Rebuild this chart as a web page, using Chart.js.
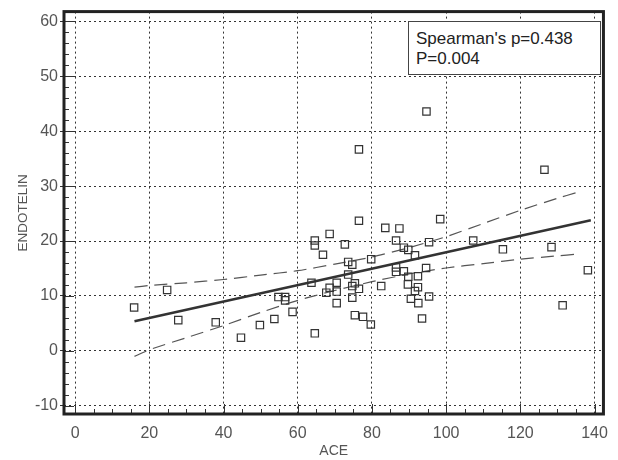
<!DOCTYPE html>
<html lang="en">
<head>
  <meta charset="UTF-8">
  <title>ACE vs Endotelin</title>
  <script src="https://cdn.jsdelivr.net/npm/chart.js"></script>
  <style>
    html, body { margin: 0; padding: 0; background: #fff; }
    #wrap { position: relative; width: 618px; height: 460px; }
    #stats {
      position: absolute;
      left: 408px; top: 21px;
      width: 193px; height: 54px;
      box-sizing: border-box;
      border: 1.5px solid #444;
      background: #fff;
      padding: 7px 0 0 7px;
      font-family: "Liberation Sans", Arial, sans-serif;
      font-size: 17px;
      line-height: 20px;
      color: #222;
      white-space: nowrap;
    }
  </style>
</head>
<body>
<div id="wrap">
  <canvas id="myChart" width="618" height="460"></canvas>
  <div id="stats">Spearman's p=0.438<br>P=0.004</div>
</div>

<script>
  // scatter points
  const aceValues = [
    15.9, 24.8, 27.8, 37.9, 44.7, 49.8, 53.7, 54.8, 56.6, 56.6,
    58.6, 63.7, 64.6, 64.6, 64.6, 66.8, 67.7, 68.6, 68.6, 70.5,
    70.5, 70.5, 72.7, 73.6, 73.6, 74.7, 74.7, 74.7, 75.4, 75.4,
    76.5, 76.5, 76.5, 77.6, 79.7, 79.8, 82.5, 83.6, 86.5, 86.5,
    86.5, 87.4, 88.6, 88.6, 89.8, 89.8, 89.7, 90.5, 91.6, 91.6,
    92.4, 92.4, 92.5, 93.5, 94.6, 94.7, 95.4, 95.4, 98.4, 107.3,
    115.3, 126.5, 128.4, 131.4, 138.2
  ];
  const endotelinValues = [
    7.9, 11.1, 5.6, 5.2, 2.4, 4.7, 5.8, 9.8, 9.8, 9.2,
    7.1, 12.4, 20.1, 19.2, 3.2, 17.5, 10.6, 11.5, 21.3, 12.4,
    10.8, 8.7, 19.4, 16.2, 13.9, 15.7, 11.8, 9.7, 12.3, 6.5,
    11.3, 23.7, 36.7, 6.2, 4.8, 16.7, 11.8, 22.4, 20.1, 15.2,
    14.4, 22.3, 18.8, 14.5, 18.4, 13.5, 12.1, 9.5, 17.4, 10.9,
    13.6, 11.6, 8.7, 5.9, 15.1, 43.6, 19.8, 9.9, 24.0, 20.1,
    18.5, 33.0, 18.9, 8.3, 14.7
  ];

  // fitted line and its confidence band
  const fitX = [16, 139];
  const fitY = [5.4, 23.8];
  const bandX = [16, 20, 30, 40, 50, 60, 70, 80, 90, 100, 110, 120, 130, 135];
  const bandUpper = [11.6, 11.9, 12.4, 13.0, 13.8, 14.6, 15.8, 17.1, 18.8, 20.8, 23.2, 25.6, 27.8, 28.8];
  const bandLower = [-1.0, 0.2, 2.4, 4.6, 7.0, 9.2, 11.0, 12.6, 14.0, 15.1, 15.9, 16.7, 17.3, 17.6];

  const xTickLabels = [0, 20, 40, 60, 80, 100, 120, 140];
  const yTickLabels = [-10, 0, 10, 20, 30, 40, 50, 60];

  const toPoints = (xs, ys) => xs.map((x, i) => ({ x, y: ys[i] }));

  // thick frame plus the small inward ticks
  const frameTicks = {
    id: 'frameTicks',
    afterDatasetsDraw(chart) {
      const { ctx, chartArea: a, scales: { x, y } } = chart;
      ctx.save();
      ctx.strokeStyle = '#333';
      ctx.lineWidth = 1;
      ctx.beginPath();
      for (let v = 0; v <= 140; v += 5) {
        const px = Math.round(x.getPixelForValue(v)) + 0.5;
        const len = v % 20 === 0 ? 10 : 5;
        ctx.moveTo(px, a.bottom);
        ctx.lineTo(px, a.bottom - len);
      }
      for (let v = -10; v <= 60; v += 2) {
        const py = Math.round(y.getPixelForValue(v)) + 0.5;
        const len = v % 10 === 0 ? 10 : 5;
        ctx.moveTo(a.left, py);
        ctx.lineTo(a.left + len, py);
      }
      ctx.stroke();
      ctx.lineWidth = 3;
      ctx.strokeStyle = '#222';
      ctx.strokeRect(a.left, a.top, a.right - a.left, a.bottom - a.top);
      ctx.restore();
    }
  };

  const ctx = document.getElementById('myChart').getContext('2d');
  Chart.defaults.font.family = '"Liberation Sans", Arial, sans-serif';

  new Chart(ctx, {
    type: 'scatter',
    data: {
      datasets: [
        {
          label: 'Data',
          data: toPoints(aceValues, endotelinValues),
          pointStyle: 'rect',
          pointRadius: 5.2,
          borderColor: '#333',
          borderWidth: 1.2,
          backgroundColor: 'rgba(0,0,0,0)'
        },
        {
          label: 'Fit',
          data: toPoints(fitX, fitY),
          showLine: true,
          pointRadius: 0,
          borderColor: '#333',
          borderWidth: 2.5,
          fill: false
        },
        {
          label: 'Upper',
          data: toPoints(bandX, bandUpper),
          showLine: true,
          pointRadius: 0,
          borderColor: '#555',
          borderWidth: 1.2,
          borderDash: [13, 7],
          tension: 0.2,
          fill: false
        },
        {
          label: 'Lower',
          data: toPoints(bandX, bandLower),
          showLine: true,
          pointRadius: 0,
          borderColor: '#555',
          borderWidth: 1.2,
          borderDash: [13, 7],
          tension: 0.2,
          fill: false
        }
      ]
    },
    options: {
      responsive: false,
      animation: false,
      layout: { padding: { top: 11, right: 7, left: 0, bottom: 0 } },
      plugins: { legend: { display: false }, tooltip: { enabled: false } },
      scales: {
        x: {
          type: 'linear',
          min: -3,
          max: 142.4,
          afterBuildTicks: s => { s.ticks = xTickLabels.map(v => ({ value: v })); },
          afterFit: s => { s.height = 46; },
          grid: { color: '#333', lineWidth: 1, drawTicks: false },
          border: { display: false, dash: [2, 3] },
          ticks: { color: '#555', font: { size: 16 }, padding: 10, maxRotation: 0, autoSkip: false, callback: v => String(v) },
          title: { display: true, text: 'ACE', color: '#555', font: { size: 14 }, padding: { top: 0, bottom: 0 } }
        },
        y: {
          type: 'linear',
          min: -11.5,
          max: 61.8,
          afterBuildTicks: s => { s.ticks = yTickLabels.map(v => ({ value: v })); },
          afterFit: s => { s.width = 64; },
          grid: { color: '#333', lineWidth: 1, drawTicks: true, tickLength: 4, tickColor: '#333', tickBorderDash: [] },
          border: { display: false, dash: [2, 3] },
          ticks: { color: '#555', font: { size: 16 }, padding: 2, autoSkip: false, callback: v => String(v) },
          title: { display: true, text: 'ENDOTELIN', color: '#555', font: { size: 13.5 }, padding: { top: 15, bottom: 0 } }
        }
      }
    },
    plugins: [frameTicks]
  });
</script>
</body>
</html>
